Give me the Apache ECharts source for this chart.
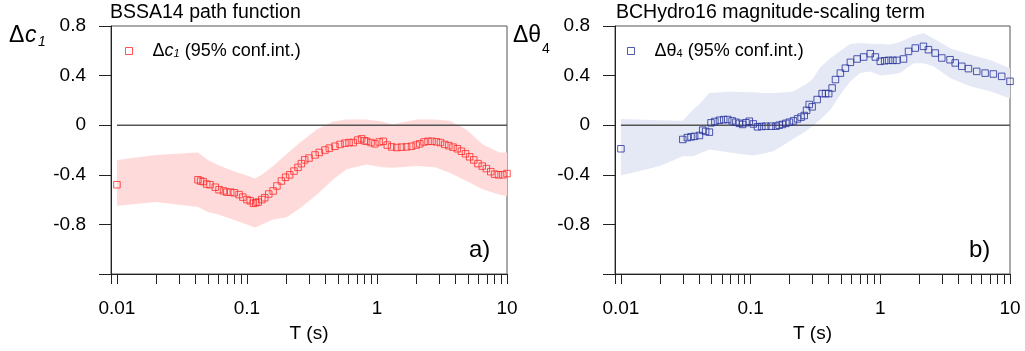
<!DOCTYPE html>
<html><head><meta charset="utf-8">
<script src="https://cdn.jsdelivr.net/npm/echarts@6/dist/echarts.min.js"></script>
<style>html,body{margin:0;padding:0;background:#fff}#c{width:1025px;height:351px}</style>
</head><body><div id="c"></div>
<script>
// ---- tick labels ----
const xLabelValues = [0.01, 0.1, 1, 10];
const xTickValues = [0.009, 0.01, 0.02, 0.03, 0.04, 0.05, 0.06, 0.07, 0.08, 0.09,
  0.1, 0.2, 0.3, 0.4, 0.5, 0.6, 0.7, 0.8, 0.9, 1, 2, 3, 4, 5, 6, 7, 8, 9, 10];
const yLabelValues = [0.8, 0.4, 0, -0.4, -0.8];

// ---- panel a) BSSA14 delta c1 ----
const c1Period = [0.01, 0.042, 0.044, 0.046, 0.049, 0.052, 0.057, 0.061, 0.066, 0.070, 0.075, 0.080, 0.087, 0.093, 0.100, 0.106, 0.112, 0.117, 0.122, 0.130, 0.137, 0.147, 0.159, 0.170, 0.184, 0.198, 0.213, 0.230, 0.247, 0.262, 0.278, 0.300, 0.334, 0.360, 0.398, 0.430, 0.475, 0.520, 0.567, 0.610, 0.657, 0.710, 0.762, 0.800, 0.832, 0.900, 0.964, 1.04, 1.116, 1.20, 1.294, 1.42, 1.544, 1.69, 1.843, 2.00, 2.134, 2.30, 2.47, 2.65, 2.866, 3.08, 3.32, 3.57, 3.846, 4.15, 4.46, 4.80, 5.16, 5.55, 5.98, 6.45, 6.94, 7.50, 8.03, 8.60, 9.30, 10.0];
const c1Value = [-0.48, -0.44, -0.45, -0.455, -0.475, -0.48, -0.50, -0.52, -0.53, -0.54, -0.54, -0.545, -0.56, -0.58, -0.60, -0.61, -0.63, -0.625, -0.62, -0.60, -0.585, -0.555, -0.53, -0.49, -0.45, -0.42, -0.40, -0.37, -0.34, -0.31, -0.28, -0.265, -0.24, -0.22, -0.20, -0.185, -0.17, -0.155, -0.145, -0.14, -0.14, -0.12, -0.11, -0.125, -0.13, -0.14, -0.15, -0.135, -0.13, -0.16, -0.175, -0.18, -0.177, -0.175, -0.17, -0.16, -0.15, -0.135, -0.13, -0.13, -0.134, -0.14, -0.155, -0.165, -0.177, -0.19, -0.21, -0.23, -0.255, -0.28, -0.31, -0.33, -0.35, -0.375, -0.395, -0.40, -0.40, -0.39];
const c1BandPeriod = [0.01, 0.02, 0.042, 0.05, 0.06, 0.078, 0.1, 0.115, 0.13, 0.159, 0.2, 0.256, 0.344, 0.459, 0.584, 0.832, 1.1, 1.32, 2.01, 2.8, 3.62, 4.87, 6.5, 8.77, 10];
const c1BandLow = [-0.65, -0.62, -0.66, -0.70, -0.72, -0.76, -0.80, -0.825, -0.80, -0.76, -0.745, -0.67, -0.56, -0.437, -0.356, -0.316, -0.34, -0.343, -0.33, -0.34, -0.383, -0.45, -0.517, -0.56, -0.57];
const c1BandHigh = [-0.28, -0.24, -0.22, -0.28, -0.32, -0.37, -0.405, -0.43, -0.40, -0.33, -0.236, -0.14, -0.035, 0.03, 0.045, 0.045, 0.03, 0.005, 0.045, 0.045, 0.035, -0.035, -0.155, -0.22, -0.22];

// ---- panel b) BCHydro16 delta theta4 ----
const th4Period = [0.01, 0.030, 0.0325, 0.0347, 0.037, 0.0403, 0.0427, 0.045, 0.0481, 0.0495, 0.053, 0.0575, 0.062, 0.0666, 0.072, 0.077, 0.082, 0.0868, 0.092, 0.0977, 0.105, 0.113, 0.122, 0.131, 0.144, 0.157, 0.166, 0.176, 0.187, 0.199, 0.214, 0.230, 0.245, 0.259, 0.270, 0.283, 0.298, 0.326, 0.356, 0.378, 0.400, 0.425, 0.451, 0.492, 0.538, 0.588, 0.662, 0.744, 0.837, 0.916, 1.00, 1.08, 1.159, 1.25, 1.343, 1.51, 1.65, 1.86, 2.15, 2.35, 2.65, 2.98, 3.45, 3.78, 4.25, 4.78, 5.54, 6.43, 7.44, 8.63, 10.0];
const th4Value = [-0.19, -0.115, -0.10, -0.094, -0.09, -0.083, -0.04, -0.05, -0.056, 0.019, 0.03, 0.04, 0.045, 0.046, 0.035, 0.024, 0.015, 0.006, 0.02, 0.032, 0.01, -0.013, -0.01, -0.008, -0.008, -0.008, 0.0, 0.006, 0.015, 0.024, 0.035, 0.051, 0.065, 0.078, 0.12, 0.167, 0.148, 0.207, 0.255, 0.255, 0.255, 0.30, 0.368, 0.42, 0.46, 0.507, 0.534, 0.55, 0.577, 0.55, 0.515, 0.52, 0.523, 0.523, 0.523, 0.534, 0.595, 0.622, 0.636, 0.609, 0.582, 0.542, 0.528, 0.502, 0.475, 0.456, 0.434, 0.42, 0.413, 0.394, 0.354];
const th4BandPeriod = [0.01, 0.02, 0.03, 0.036, 0.04, 0.048, 0.069, 0.104, 0.123, 0.15, 0.21, 0.264, 0.30, 0.345, 0.413, 0.492, 0.588, 0.70, 0.837, 1.0, 1.19, 1.42, 1.8, 2.15, 2.57, 3.45, 4.92, 7.02, 10];
const th4BandLow = [-0.405, -0.33, -0.25, -0.25, -0.23, -0.196, -0.22, -0.244, -0.23, -0.21, -0.115, -0.05, -0.008, 0.046, 0.126, 0.247, 0.354, 0.42, 0.434, 0.40, 0.408, 0.42, 0.50, 0.50, 0.475, 0.38, 0.314, 0.274, 0.215];
const th4BandHigh = [0.05, 0.04, 0.035, 0.126, 0.167, 0.26, 0.27, 0.265, 0.26, 0.26, 0.27, 0.327, 0.37, 0.47, 0.54, 0.60, 0.655, 0.663, 0.657, 0.655, 0.65, 0.67, 0.72, 0.743, 0.70, 0.62, 0.57, 0.525, 0.46];

const zeroLine = [[0.01, 0], [10, 0]];

const FONT = "'Liberation Sans', Arial, sans-serif";
const RED = '#ff2a2a', PINK = '#ffdada';
const BLUE = '#26309a', LAV = '#e4e9f5';

function pairs(xs, ys) { return xs.map((x, i) => [x, ys[i]]); }

function xAxis(gi) {
  return {
    type: 'log', logBase: 10, gridIndex: gi, min: 0.009, max: 10,
    axisLine: { show: true, onZero: false, lineStyle: { color: '#222', width: 1 } },
    axisTick: { show: true, inside: false, length: 10, customValues: xTickValues, lineStyle: { color: '#222' } },
    axisLabel: { customValues: xLabelValues, fontSize: 19, color: '#000', fontFamily: FONT, margin: 25,
      formatter: v => String(+v.toPrecision(3)) },
    splitLine: { show: false }, minorTick: { show: false },
    name: 'T (s)', nameLocation: 'middle', nameGap: 50,
    nameTextStyle: { fontSize: 19, color: '#000', fontFamily: FONT }
  };
}
function yAxis(gi) {
  return {
    type: 'value', gridIndex: gi, min: -1.2, max: 0.8, interval: 0.4,
    axisLine: { show: true, lineStyle: { color: '#222' } },
    axisTick: { show: true, inside: false, length: 12, lineStyle: { color: '#222' } },
    axisLabel: { customValues: yLabelValues, fontSize: 19, color: '#000', fontFamily: FONT, margin: 25,
      formatter: v => (Math.abs(v) < 1e-9 ? '0' : String(+v.toFixed(1))) },
    splitLine: { show: false }
  };
}
// confidence band drawn as one polygon through the axes' scales
function bandSeries(gi, per, lo, hi, color) {
  return {
    type: 'custom', xAxisIndex: gi, yAxisIndex: gi, silent: true, z: 1, clip: true,
    data: pairs(per, lo),
    renderItem: function (params, api) {
      if (params.dataIndex !== 0) return null;
      const pts = [];
      for (let i = 0; i < per.length; i++) pts.push(api.coord([per[i], hi[i]]));
      for (let i = per.length - 1; i >= 0; i--) pts.push(api.coord([per[i], lo[i]]));
      return { type: 'polygon', shape: { points: pts }, style: { fill: color, stroke: null } };
    }
  };
}

const chart = echarts.init(document.getElementById('c'), null, { renderer: 'canvas' });
chart.setOption({
  animation: false,
  backgroundColor: '#fff',
  textStyle: { fontFamily: FONT },
  title: [
    { text: 'BSSA14 path function', left: 110, top: 3, padding: 0,
      textStyle: { fontSize: 19.5, fontWeight: 'normal', color: '#000', fontFamily: FONT } },
    { text: 'BCHydro16 magnitude-scaling term', left: 616, top: 3, padding: 0,
      textStyle: { fontSize: 19.5, fontWeight: 'normal', color: '#000', fontFamily: FONT } }
  ],
  grid: [
    { left: 111, top: 26, width: 396, height: 248, show: true, borderColor: '#555', borderWidth: 1, backgroundColor: 'transparent' },
    { left: 615, top: 26, width: 395, height: 248, show: true, borderColor: '#555', borderWidth: 1, backgroundColor: 'transparent' }
  ],
  xAxis: [xAxis(0), xAxis(1)],
  yAxis: [yAxis(0), yAxis(1)],
  legend: [
    { left: 125, top: 42, padding: 0, itemWidth: 7, itemHeight: 7, icon: 'rect', data: ['c1'],
      itemStyle: { color: 'transparent', borderColor: RED, borderWidth: 1 },
      formatter: () => '{p|Δ}{i|c}{s|1}{t| (95% conf.int.)}',
      textStyle: { color: '#000', fontFamily: FONT, rich: {
        p: { fontSize: 18, padding: [0, 0, 0, 15], fontFamily: FONT },
        i: { fontSize: 18, fontStyle: 'italic', fontFamily: FONT },
        s: { fontSize: 11, fontStyle: 'italic', padding: [6, 0, 0, 0], fontFamily: FONT },
        t: { fontSize: 18, fontFamily: FONT } } } },
    { left: 627, top: 42, padding: 0, itemWidth: 7, itemHeight: 7, icon: 'rect', data: ['th4'],
      itemStyle: { color: 'transparent', borderColor: BLUE, borderWidth: 1 },
      formatter: () => '{p|Δθ}{s|4}{t| (95% conf.int.)}',
      textStyle: { color: '#000', fontFamily: FONT, rich: {
        p: { fontSize: 18, padding: [0, 0, 0, 15], fontFamily: FONT },
        s: { fontSize: 11, padding: [6, 0, 0, 0], fontFamily: FONT },
        t: { fontSize: 18, fontFamily: FONT } } } }
  ],
  graphic: [
    { type: 'text', left: 9, top: 24, style: { text: 'Δ', fontSize: 23, fontFamily: FONT, fill: '#000' } },
    { type: 'text', left: 25, top: 24, style: { text: 'c', fontSize: 23, fontStyle: 'italic', fontFamily: FONT, fill: '#000' } },
    { type: 'text', left: 38, top: 35, style: { text: '1', fontSize: 14, fontStyle: 'italic', fontFamily: FONT, fill: '#000' } },
    { type: 'text', left: 513, top: 24, style: { text: 'Δθ', fontSize: 23, fontFamily: FONT, fill: '#000' } },
    { type: 'text', left: 542, top: 42, style: { text: '4', fontSize: 14, fontFamily: FONT, fill: '#000' } },
    { type: 'text', left: 469, top: 238, style: { text: 'a)', fontSize: 24, fontFamily: FONT, fill: '#000' } },
    { type: 'text', left: 969, top: 238, style: { text: 'b)', fontSize: 24, fontFamily: FONT, fill: '#000' } }
  ],
  series: [
    bandSeries(0, c1BandPeriod, c1BandLow, c1BandHigh, PINK),
    bandSeries(1, th4BandPeriod, th4BandLow, th4BandHigh, LAV),
    { type: 'line', xAxisIndex: 0, yAxisIndex: 0, data: zeroLine, symbol: 'none', silent: true, z: 3,
      lineStyle: { color: '#555', width: 1.5 } },
    { type: 'line', xAxisIndex: 1, yAxisIndex: 1, data: zeroLine, symbol: 'none', silent: true, z: 3,
      lineStyle: { color: '#555', width: 1.5 } },
    { name: 'c1', type: 'scatter', xAxisIndex: 0, yAxisIndex: 0, data: pairs(c1Period, c1Value),
      symbol: 'rect', symbolSize: 6.5, z: 4, silent: true,
      itemStyle: { color: 'transparent', borderColor: RED, borderWidth: 1 } },
    { name: 'th4', type: 'scatter', xAxisIndex: 1, yAxisIndex: 1, data: pairs(th4Period, th4Value),
      symbol: 'rect', symbolSize: 6.5, z: 4, silent: true,
      itemStyle: { color: 'transparent', borderColor: BLUE, borderWidth: 1 } }
  ]
});
</script>
</body></html>
